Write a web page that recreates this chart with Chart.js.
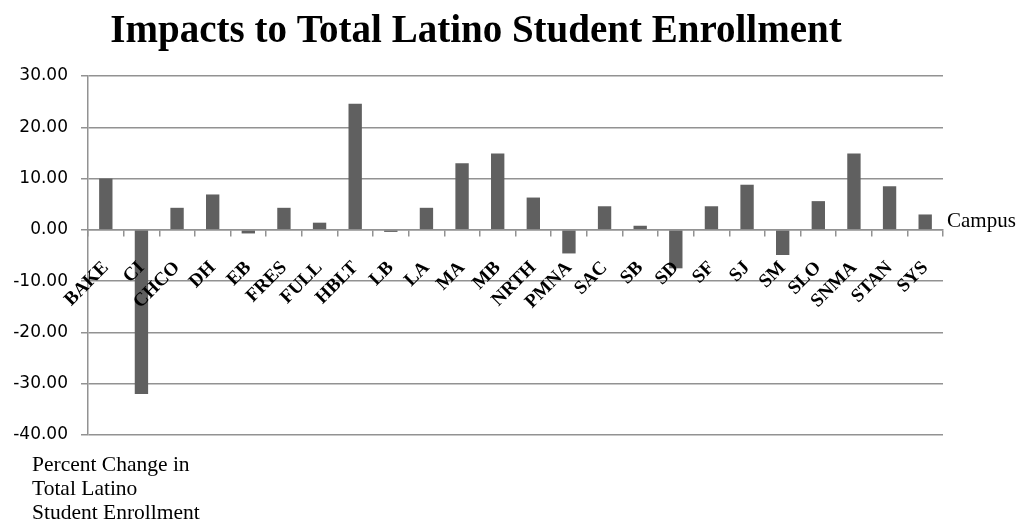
<!DOCTYPE html>
<html>
<head>
<meta charset="utf-8">
<script src="https://cdn.jsdelivr.net/npm/chart.js@4/dist/chart.umd.min.js"></script>
<style>
  html, body { margin: 0; padding: 0; background: #fff; }
  #wrap { width: 1016px; height: 522px; }
</style>
</head>
<body>
<div id="wrap"><canvas id="enrollChart"></canvas></div>
<script>
// Campus codes along the category axis
const campuses = ['BAKE', 'CI', 'CHCO', 'DH', 'EB', 'FRES', 'FULL', 'HBLT', 'LB', 'LA', 'MA', 'MB',
                  'NRTH', 'PMNA', 'SAC', 'SB', 'SD', 'SF', 'SJ', 'SM', 'SLO', 'SNMA', 'STAN', 'SYS'];
// Percent change in total Latino student enrollment, per campus
const pctChange = [10.0, -32.0, 4.3, 6.9, -0.7, 4.3, 1.4, 24.6, -0.4, 4.3, 13.0, 14.9,
                   6.3, -4.6, 4.6, 0.8, -7.5, 4.6, 8.8, -4.9, 5.6, 14.9, 8.5, 3.0];
// Value axis ticks
const yTicks = [-40, -30, -20, -10, 0, 10, 20, 30];

const chartTitle = 'Impacts to Total Latino Student Enrollment';
const xAxisName = 'Campus';
const yAxisName = ['Percent Change in', 'Total Latino', 'Student Enrollment'];

const lineGray = '#929292';

// title and the two axis captions, drawn straight on the canvas
const captions = {
    id: 'captions',
    afterDraw(chart) {
        const { ctx, chartArea, scales } = chart;
        ctx.save();
        ctx.fillStyle = '#000';
        ctx.font = 'bold 39px "Liberation Serif"';
        ctx.textAlign = 'center';
        ctx.textBaseline = 'alphabetic';
        ctx.fillText(chartTitle, 476, 42);

        ctx.font = '21px "Liberation Serif"';
        ctx.textAlign = 'left';
        ctx.textBaseline = 'middle';
        ctx.fillText(xAxisName, chartArea.right + 4, scales.y.getPixelForValue(0) - 8);

        ctx.font = '21.5px "Liberation Serif"';
        ctx.textBaseline = 'alphabetic';
        yAxisName.forEach((line, i) => ctx.fillText(line, 32, 471 + i * 24));
        ctx.restore();
    }
};

const ctx = document.getElementById('enrollChart').getContext('2d');
const enrollChart = new Chart(ctx, {
    type: 'bar',
    data: {
        labels: campuses,
        datasets: [{
            label: 'Percent Change',
            data: pctChange,
            backgroundColor: '#606060',
            borderWidth: 0,
            barPercentage: 0.75,
            categoryPercentage: 0.5
        }]
    },
    options: {
        responsive: true,
        maintainAspectRatio: false,
        animation: false,
        layout: {
            padding: { top: 76, right: 73, bottom: 87, left: 0 }
        },
        plugins: {
            legend: { display: false },
            tooltip: { enabled: false }
        },
        scales: {
            x: {
                position: { y: 0 },
                offset: true,
                grid: {
                    drawOnChartArea: false,
                    offset: true,
                    color: lineGray,
                    lineWidth: 1.5,
                    tickLength: 6
                },
                border: { color: lineGray, width: 1.5 },
                ticks: {
                    z: 1, // campus names sit on top of the bars
                    autoSkip: false,
                    minRotation: 45,
                    maxRotation: 45,
                    padding: 21,
                    color: '#000',
                    font: { family: '"Liberation Serif"', size: 19, weight: 'bold' }
                }
            },
            y: {
                min: -40,
                max: 30,
                afterBuildTicks(scale) {
                    scale.ticks = yTicks.map(v => ({ value: v }));
                },
                afterFit(scale) {
                    scale.width = 88;
                },
                grid: {
                    color: lineGray,
                    lineWidth: 1.5,
                    tickLength: 7
                },
                border: { color: lineGray, width: 1.5 },
                ticks: {
                    padding: 13,
                    color: '#000',
                    font: { family: '"DejaVu Sans"', size: 17 },
                    callback: v => v.toFixed(2)
                }
            }
        }
    },
    plugins: [captions]
});
</script>
</body>
</html>
